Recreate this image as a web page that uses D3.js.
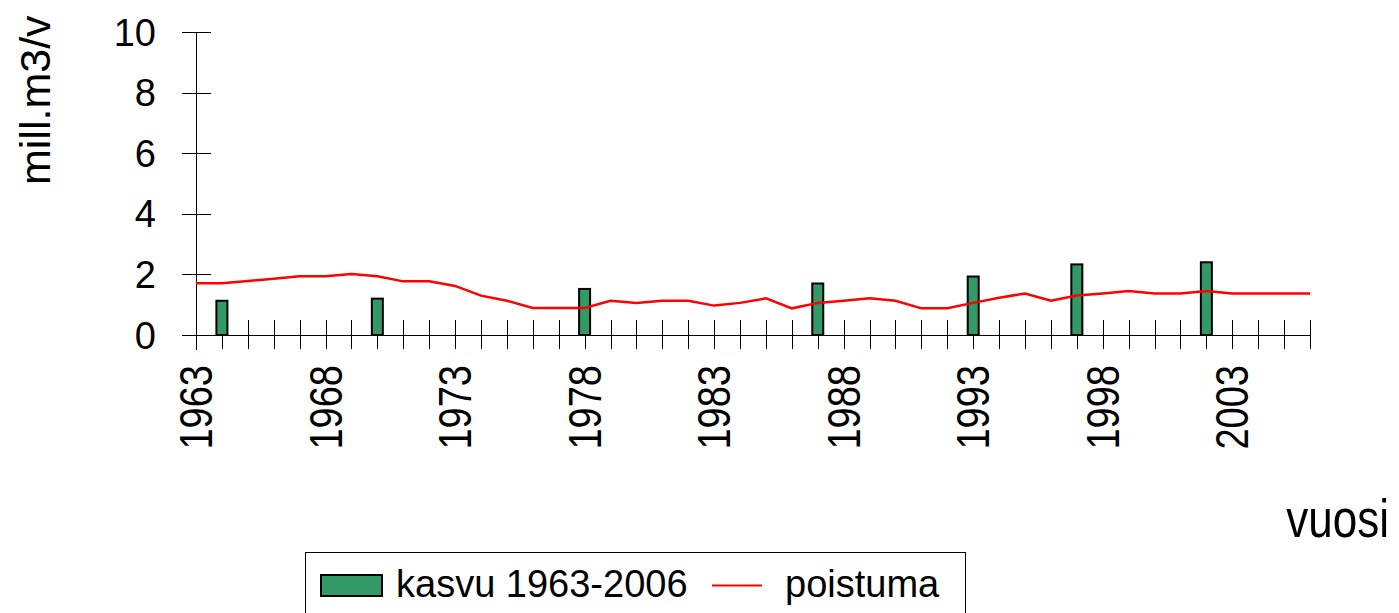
<!DOCTYPE html>
<html>
<head>
<meta charset="utf-8">
<script src="https://cdn.jsdelivr.net/npm/d3@7"></script>
<style>
  body { margin: 0; background: #fff; }
  svg { display: block; font-family: "Liberation Sans", Arial, sans-serif; }
</style>
</head>
<body>
<svg id="chart" width="1399" height="613"></svg>
<script>
var years = d3.range(1963, 2007);
var yearLabels = [1963, 1968, 1973, 1978, 1983, 1988, 1993, 1998, 2003];
var yTicks = [0, 2, 4, 6, 8, 10];

// kasvu 1963-2006 (only measured years)
var kasvuYears  = [1964, 1970, 1978, 1987, 1993, 1997, 2002];
var kasvuValues = [1.13, 1.2, 1.52, 1.7, 1.93, 2.33, 2.4];

// poistuma, one value per year
var poistuma = [
  1.71, 1.71, 1.78, 1.86, 1.94, 1.94, 2.01, 1.94, 1.77, 1.77,
  1.62, 1.30, 1.13, 0.89, 0.89, 0.89, 1.13, 1.06, 1.13, 1.13,
  0.97, 1.06, 1.21, 0.88, 1.06, 1.13, 1.21, 1.13, 0.88, 0.88,
  1.06, 1.23, 1.37, 1.13, 1.30, 1.37, 1.45, 1.37, 1.37, 1.45,
  1.37, 1.37, 1.37, 1.37
];

var
  svg = d3.select('#chart'),
  margin = {left: 196, right: 89, top: 32, bottom: 278},
  W = 1399, H = 613,
  x = d3.scalePoint().domain(years).range([margin.left, W - margin.right]),
  y = d3.scaleLinear().domain([0, 10]).range([H - margin.bottom, margin.top]),
  barW = 11,
  fontSize = 38;

var y0 = y(0);

// y axis
var yAxis = svg.append('g').attr('class', 'axis axis--y');
yAxis.append('line')
  .attr('x1', x(1963) + 0.5).attr('x2', x(1963) + 0.5)
  .attr('y1', y(10)).attr('y2', y0 + 15)
  .attr('stroke', '#000');
yAxis.selectAll('.tick')
  .data(yTicks)
  .enter().append('line')
  .attr('x1', x(1963) - 14).attr('x2', x(1963) + 15)
  .attr('y1', d => Math.round(y(d)) + 0.5).attr('y2', d => Math.round(y(d)) + 0.5)
  .attr('stroke', '#000');
yAxis.selectAll('text')
  .data(yTicks)
  .enter().append('text')
  .attr('x', 156)
  .attr('y', d => y(d))
  .attr('dy', '0.36em')
  .attr('text-anchor', 'end')
  .attr('font-size', fontSize)
  .text(d => d);

// x axis
var xAxis = svg.append('g').attr('class', 'axis axis--x');
xAxis.append('line')
  .attr('x1', x(1963) - 14).attr('x2', x(2006))
  .attr('y1', Math.round(y0) + 0.5).attr('y2', Math.round(y0) + 0.5)
  .attr('stroke', '#000');
xAxis.selectAll('.tick')
  .data(years.slice(1))
  .enter().append('line')
  .attr('x1', d => Math.round(x(d)) + 0.5).attr('x2', d => Math.round(x(d)) + 0.5)
  .attr('y1', y0 - 15).attr('y2', y0 + 14)
  .attr('stroke', '#000');
// labels are drawn taller than wide, as in the original
xAxis.selectAll('text')
  .data(yearLabels)
  .enter().append('text')
  .attr('transform', d => 'translate(' + (x(d) + 16) + ',' + (y0 + 30) + ') rotate(-90) scale(1,1.2)')
  .attr('text-anchor', 'end')
  .attr('font-size', fontSize)
  .text(d => d);

// bars
svg.append('g').selectAll('rect')
  .data(kasvuYears.map((d, i) => ({year: d, value: kasvuValues[i]})))
  .enter().append('rect')
  .attr('x', d => x(d.year) - barW / 2)
  .attr('y', d => y(d.value))
  .attr('width', barW)
  .attr('height', d => y0 - y(d.value))
  .attr('fill', '#339966')
  .attr('stroke', '#000')
  .attr('stroke-width', 2);

// line
var line = d3.line().x((d, i) => x(years[i])).y(d => y(d));
svg.append('path')
  .attr('d', line(poistuma))
  .attr('fill', 'none')
  .attr('stroke', '#ff0000')
  .attr('stroke-width', 2.5);

// axis titles
svg.append('text')
  .attr('transform', 'translate(50,185) rotate(-90)')
  .attr('font-size', 43)
  .text('mill.m3/v');

svg.append('text')
  .attr('transform', 'translate(1389,537) scale(1,1.2)')
  .attr('text-anchor', 'end')
  .attr('font-size', 44)
  .text('vuosi');

// legend
var legend = svg.append('g');
legend.append('rect')
  .attr('x', 305.5).attr('y', 552.5)
  .attr('width', 660).attr('height', 80)
  .attr('fill', '#fff')
  .attr('stroke', '#000');
legend.append('rect')
  .attr('x', 321).attr('y', 575)
  .attr('width', 61).attr('height', 21)
  .attr('fill', '#339966')
  .attr('stroke', '#000')
  .attr('stroke-width', 2);
legend.append('text')
  .attr('x', 396).attr('y', 597)
  .attr('font-size', fontSize)
  .text('kasvu 1963-2006');
legend.append('line')
  .attr('x1', 712).attr('x2', 762)
  .attr('y1', 585.5).attr('y2', 585.5)
  .attr('stroke', '#ff0000')
  .attr('stroke-width', 2);
legend.append('text')
  .attr('x', 785).attr('y', 597)
  .attr('font-size', fontSize)
  .text('poistuma');
</script>
</body>
</html>
